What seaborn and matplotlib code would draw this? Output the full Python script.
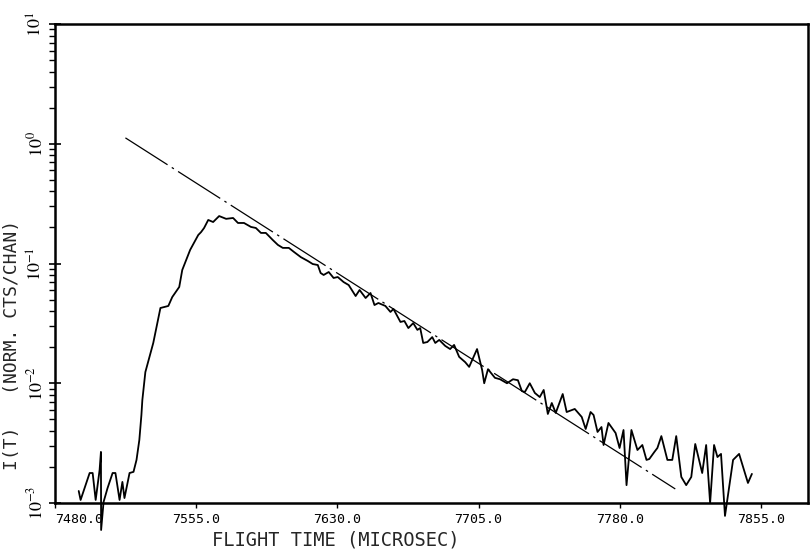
import matplotlib
matplotlib.use("Agg")
import matplotlib.pyplot as plt
from matplotlib.ticker import NullFormatter, FixedLocator, LogLocator
import numpy as np
import pandas as pd
import seaborn as sns

# measured flight-time spectrum (microsec, normalized counts/channel)
time_us = [7492.6, 7493.6, 7498.4, 7500.0, 7501.6, 7503.7, 7504.4, 7504.5, 7505.8, 7507.9,
           7510.6, 7512.1, 7514.3, 7515.8, 7516.9, 7519.6, 7521.7, 7523.3, 7524.8, 7525.9,
           7526.4, 7528.0, 7532.2, 7536.0, 7540.2, 7542.3, 7546.0, 7547.6, 7551.8, 7556.1,
           7557.6, 7559.2, 7561.4, 7564.0, 7567.2, 7570.9, 7574.6, 7577.2, 7580.4, 7584.1,
           7586.7, 7589.4, 7592.0, 7595.7, 7598.4, 7601.0, 7604.2, 7606.9, 7610.6, 7614.3,
           7616.9, 7619.6, 7621.1, 7622.7, 7625.4, 7628.0, 7630.2, 7633.3, 7636.0, 7639.7,
           7641.8, 7645.0, 7647.6, 7649.7, 7651.8, 7655.5, 7658.2, 7659.8, 7662.4, 7663.5,
           7665.6, 7667.7, 7670.3, 7672.5, 7674.0, 7675.6, 7677.8, 7680.4, 7682.0, 7684.1,
           7687.3, 7689.9, 7692.0, 7694.7, 7697.9, 7700.0, 7704.2, 7706.9, 7708.0, 7710.0,
           7713.7, 7716.4, 7720.1, 7723.3, 7725.9, 7728.0, 7729.6, 7732.2, 7734.9, 7737.5,
           7739.6, 7741.8, 7743.9, 7746.0, 7749.7, 7751.8, 7756.1, 7759.8, 7761.9, 7764.5,
           7766.1, 7768.2, 7770.3, 7771.4, 7774.0, 7777.8, 7779.9, 7782.0, 7783.6, 7786.2,
           7789.4, 7792.0, 7794.2, 7795.7, 7798.4, 7800.0, 7802.1, 7805.3, 7807.9, 7810.0,
           7812.7, 7815.3, 7818.0, 7820.1, 7823.8, 7825.9, 7828.0, 7830.1, 7831.9, 7833.8,
           7835.9, 7840.2, 7843.4, 7848.1, 7850.2]
intensity = [1.26e-3, 1.06e-3, 1.78e-3, 1.78e-3, 1.06e-3, 1.89e-3, 2.67e-3, 5.95e-4, 1.02e-3, 1.33e-3,
             1.78e-3, 1.78e-3, 1.06e-3, 1.50e-3, 1.10e-3, 1.78e-3, 1.82e-3, 2.29e-3, 3.36e-3, 5.43e-3,
             7.24e-3, 1.24e-2, 2.17e-2, 4.25e-2, 4.42e-2, 5.25e-2, 6.37e-2, 8.83e-2, 0.130, 0.173,
             0.183, 0.198, 0.231, 0.222, 0.249, 0.236, 0.240, 0.218, 0.218, 0.202,
             0.198, 0.180, 0.180, 0.157, 0.143, 0.135, 0.135, 0.125, 0.113, 0.105,
             0.0990, 0.0971, 0.0833, 0.0802, 0.0849, 0.0757, 0.0771, 0.0700, 0.0661, 0.0535,
             0.0601, 0.0515, 0.0567, 0.0450, 0.0468, 0.0442, 0.0394, 0.0417, 0.0351, 0.0325,
             0.0331, 0.0289, 0.0318, 0.0279, 0.0289, 0.0217, 0.0221, 0.0243, 0.0217, 0.0230,
             0.0205, 0.0193, 0.0209, 0.0166, 0.0150, 0.0137, 0.0193, 0.0129, 0.0100, 0.0131,
             0.0111, 0.0108, 0.0100, 0.0108, 0.0106, 0.00861, 0.00845, 0.0100, 0.00830, 0.00767,
             0.00879, 0.00554, 0.00684, 0.00565, 0.00813, 0.00575, 0.00610, 0.00523, 0.00415, 0.00575,
             0.00543, 0.00392, 0.00431, 0.00305, 0.00466, 0.00384, 0.00288, 0.00407, 0.00141, 0.00407,
             0.00277, 0.00305, 0.00229, 0.00233, 0.00267, 0.00288, 0.00362, 0.00229, 0.00229, 0.00362,
             0.00165, 0.00141, 0.00165, 0.00311, 0.00178, 0.00305, 0.00100, 0.00305, 0.00242, 0.00257,
             7.8e-4, 0.00229, 0.00257, 0.00147, 0.00175]

# fitted exponential decay (straight line on log scale)
fit_time = [7517.4, 7809.5]
fit_intensity = [1.12, 1.31e-3]

xtick_values = [7480, 7555, 7630, 7705, 7780, 7855]
xtick_labels = ["7480.0", "7555.0", "7630.0", "7705.0", "7780.0", "7855.0"]
ytick_values = [1e-3, 1e-2, 1e-1, 1e0, 1e1]
ytick_labels = [r"$10^{-3}$", r"$10^{-2}$", r"$10^{-1}$", r"$10^{0}$", r"$10^{1}$"]

meas = pd.DataFrame({"t": time_us, "I": intensity})
fit = pd.DataFrame({"t": fit_time, "I": fit_intensity})

sns.set_style("ticks")
plt.rcParams["font.family"] = ["DejaVu Sans Mono", "DejaVu Sans"]
plt.rcParams["mathtext.fontset"] = "stix"

fig = plt.figure(figsize=(8.11, 5.51), dpi=100)
ax = fig.add_axes([55 / 811, 48 / 551, 753 / 811, 479 / 551])

sns.lineplot(data=meas, x="t", y="I", ax=ax, color="black", lw=1.3,
             sort=False, estimator=None)
meas_line = ax.lines[-1]
meas_line.set_clip_on(False)

sns.lineplot(data=fit, x="t", y="I", ax=ax, color="black", lw=0.9,
             sort=False, estimator=None)
fit_line = ax.lines[-1]
fit_line.set_linestyle((0, (40, 4, 2, 4)))

ax.set_yscale("log")
ax.set_ylim(1e-3, 1e1)
ax.set_xlim(7480, 7880)

ax.xaxis.set_major_locator(FixedLocator(xtick_values))
ax.set_xticklabels(xtick_labels, fontsize=9.5)
ax.xaxis.set_minor_locator(FixedLocator([]))
ax.yaxis.set_major_locator(FixedLocator(ytick_values))
ax.set_yticklabels(ytick_labels, fontsize=13)
ax.yaxis.set_minor_locator(LogLocator(base=10, subs=np.arange(2, 10)))
ax.yaxis.set_minor_formatter(NullFormatter())

ax.tick_params(axis="x", which="major", direction="out", length=3.5, width=1.0,
               pad=3.5, colors="black")
ax.tick_params(axis="y", which="major", direction="inout", length=9, width=1.2,
               pad=2, labelrotation=90, colors="black")
ax.tick_params(axis="y", which="minor", direction="out", length=4, width=1.0,
               colors="black")
for lbl in ax.get_yticklabels():
    lbl.set_va("center")
ax.get_xticklabels()[0].set_ha("left")

for side in ["left", "right", "top", "bottom"]:
    ax.spines[side].set_visible(True)
    ax.spines[side].set_color("black")
    ax.spines[side].set_linewidth(1.8)

ax.set_xlabel("FLIGHT TIME (MICROSEC)", fontsize=13.5)
ax.xaxis.set_label_coords(0.373, -0.058)
ax.set_ylabel("I(T)   (NORM. CTS/CHAN)", fontsize=13)
ax.yaxis.set_label_coords(-0.045, 0.33)

fig.savefig("out.png", dpi=100, facecolor="white")
